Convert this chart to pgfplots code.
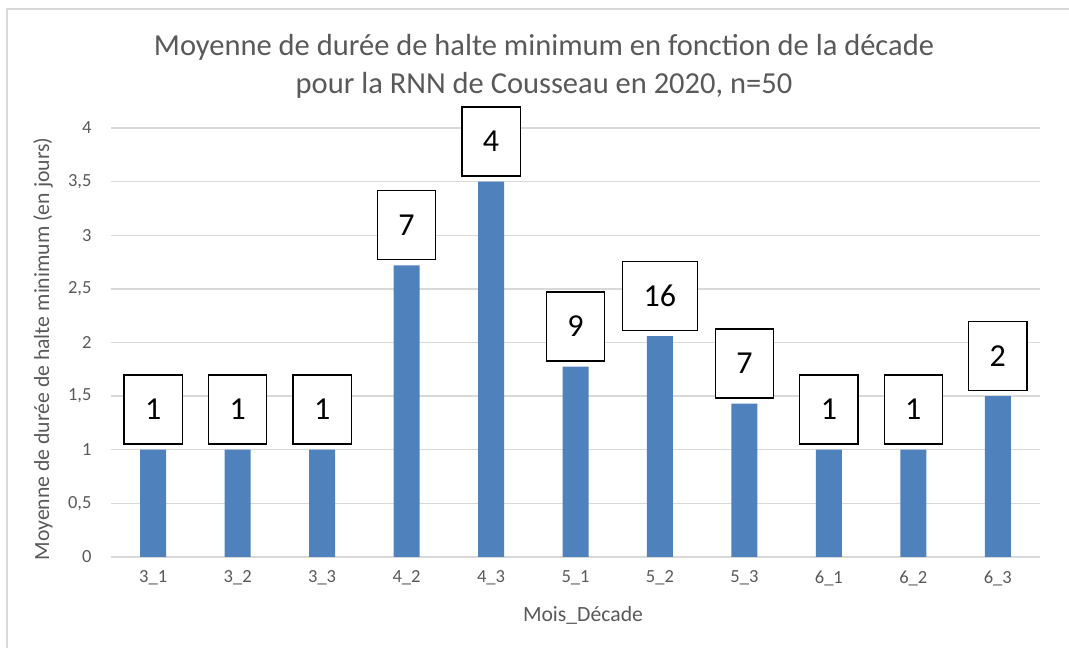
\documentclass[border=0pt]{standalone}
\usepackage{fontspec}
\setmainfont{Carlito}
\usepackage{pgfplots}
\pgfplotsset{compat=1.18}
\definecolor{barblue}{HTML}{4F81BD}
\definecolor{gridgray}{HTML}{D9D9D9}
\definecolor{txtgray}{HTML}{595959}

\begin{document}
\begin{tikzpicture}[x=1pt,y=1pt]
\useasboundingbox (-111,-91) rectangle (958,557);
\draw[gridgray, line width=1.3pt] (-104,-91) -- (-104,548) -- (958,548);
\begin{axis}[
    at={(0,0)}, anchor=south west,
    scale only axis,
    width=929pt, height=429pt,
    xmin=-0.5, xmax=10.5,
    ymin=0, ymax=4,
    ytick={0,0.5,...,4},
    xtick=data,
    xticklabels={3\_1,3\_2,3\_3,4\_2,4\_3,5\_1,5\_2,5\_3,6\_1,6\_2,6\_3},
    ymajorgrids,
    grid style={gridgray, line width=1.3pt},
    axis line style={draw=none},
    major tick length=0pt,
    xticklabel style={font=\fontsize{18.5}{18.5}\selectfont, text=txtgray, yshift=-10pt},
    yticklabel style={font=\fontsize{18.5}{18.5}\selectfont, text=txtgray, xshift=-16pt},
    /pgf/number format/use comma,
    /pgf/number format/assume math mode=true,
    clip=false,
]
\addplot[
    ybar, bar width=26pt, fill=barblue, draw=none,
    point meta=explicit,
    nodes near coords,
    every node near coord/.append style={
        draw=black, fill=white, line width=1.3pt, text=black,
        font=\fontsize{32}{32}\selectfont,
        minimum width=55pt, minimum height=69pt, inner xsep=21pt,
        anchor=south, yshift=5pt,
        /pgf/number format/assume math mode=true},
] table[meta=n] {
x  y     n
0  1.00  1
1  1.00  1
2  1.00  1
3  2.72  7
4  3.50  4
5  1.775 9
6  2.06  16
7  1.43  7
8  1.00  1
9  1.00  1
10 1.50  2
};
\end{axis}
\node[text=txtgray, align=center, font=\fontsize{30.5}{38}\selectfont]
    at (433,491) {Moyenne de durée de halte minimum en fonction de la décade\\pour la RNN de Cousseau en 2020, n=50};
\node[text=txtgray, font=\fontsize{21.7}{22}\selectfont] at (472,-58) {Mois\_Décade};
\node[text=txtgray, rotate=90, font=\fontsize{21.7}{22}\selectfont] at (-68,208) {Moyenne de durée de halte minimum (en jours)};
\end{tikzpicture}
\end{document}
